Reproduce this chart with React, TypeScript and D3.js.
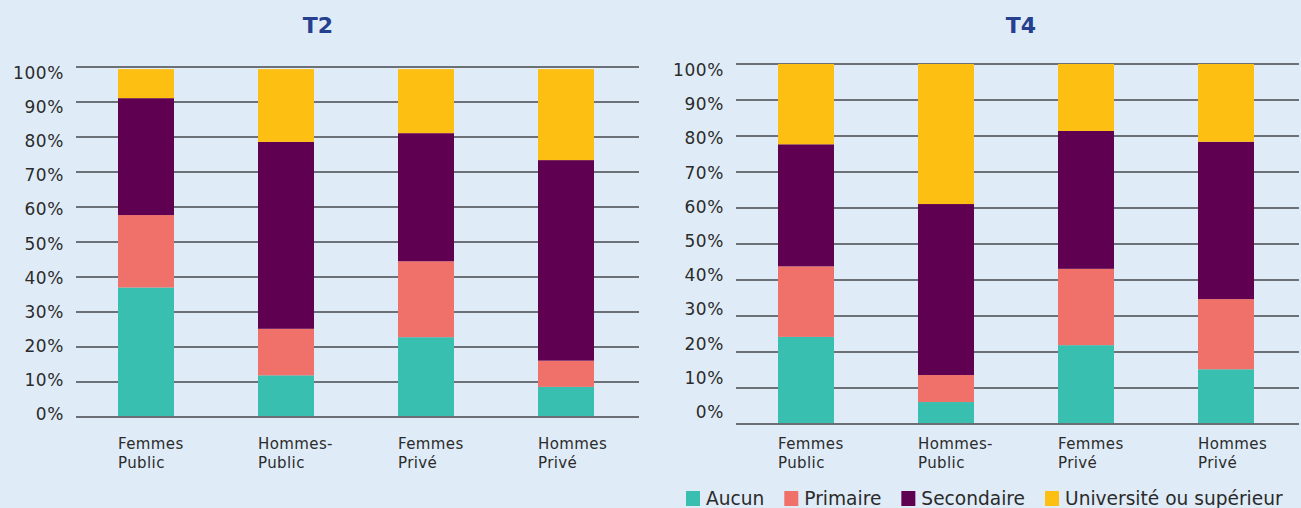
import { useEffect, useRef } from "react";
import * as d3 from "d3";

const categories = ["Femmes Public", "Hommes-Public", "Femmes Privé", "Hommes Privé"];
const categoryLines = [["Femmes", "Public"], ["Hommes-", "Public"], ["Femmes", "Privé"], ["Hommes", "Privé"]];
const levels = ["Aucun", "Primaire", "Secondaire", "Université ou supérieur"];
const levelColors = ["#38bfb0", "#f0706a", "#600050", "#fdbf12"];
const yTicks = [0, 10, 20, 30, 40, 50, 60, 70, 80, 90, 100];

// T2 (%)
const aucunT2 = [37.0, 11.9, 22.8, 8.6];
const primaireT2 = [20.7, 13.3, 21.7, 7.5];
const secondaireT2 = [33.4, 53.4, 36.6, 57.3];
const universiteT2 = [8.3, 20.8, 18.3, 26.0];

// T4
const aucunT4 = [24.2, 6.1, 21.9, 15.2];
const primaireT4 = [19.6, 7.5, 21.2, 19.5];
const secondaireT4 = [33.9, 47.5, 38.3, 43.7];
const universiteT4 = [22.3, 38.9, 18.6, 21.6];

const FONT = "'DejaVu Sans', sans-serif";

interface Panel {
  title: string;
  titleX: number;
  series: number[][];
  x0: number;
  x1: number;
  yTop: number;
  yBottom: number;
  labelTop: number;
  labelBottom: number;
}

const panels: Panel[] = [
  { title: "T2", titleX: 318, series: [aucunT2, primaireT2, secondaireT2, universiteT2], x0: 76, x1: 636, yTop: 67, yBottom: 417, labelTop: 79, labelBottom: 420 },
  { title: "T4", titleX: 1021, series: [aucunT4, primaireT4, secondaireT4, universiteT4], x0: 736, x1: 1296, yTop: 64, yBottom: 424, labelTop: 76, labelBottom: 418 },
];

const categoryLabelY = 449;

export default function App() {
  const svgRef = useRef<SVGSVGElement>(null);
  const width = 1301;
  const height = 508;

  useEffect(() => {
    if (!svgRef.current) return;
    const svg = d3.select(svgRef.current);
    svg.selectAll("*").remove();

    svg.append("rect").attr("width", width).attr("height", height).attr("fill", "#dfecf7");

    panels.forEach(p => {
      const g = svg.append("g");
      const x = d3.scaleBand<string>().domain(categories).range([p.x0, p.x1]).paddingInner(0.6).paddingOuter(0.3);
      const y = d3.scaleLinear().domain([0, 100]).range([p.yBottom, p.yTop]);
      // Excel spreads the tick labels a bit tighter than the gridlines
      const yLabel = d3.scaleLinear().domain([0, 100]).range([p.labelBottom, p.labelTop]);

      // Title
      g.append("text")
        .attr("x", p.titleX)
        .attr("y", 33)
        .attr("text-anchor", "middle")
        .attr("font-family", FONT)
        .attr("font-weight", "bold")
        .attr("font-size", "22px")
        .attr("fill", "#25408f")
        .text(p.title);

      // Gridlines
      g.selectAll(".grid")
        .data(yTicks)
        .join("line")
        .attr("x1", p.x0)
        .attr("x2", p.x1 + 3)
        .attr("y1", d => y(d))
        .attr("y2", d => y(d))
        .attr("stroke", d => (d === 0 ? "#6b6f75" : "#45484d"))
        .attr("stroke-width", d => (d === 0 ? 2 : 1.5));

      // Y labels
      g.selectAll(".ylab")
        .data(yTicks)
        .join("text")
        .attr("x", p.x0 - 12)
        .attr("y", d => yLabel(d))
        .attr("text-anchor", "end")
        .attr("font-family", FONT)
        .attr("font-size", "17px")
        .attr("letter-spacing", "0.6px")
        .attr("fill", "#2b2b2b")
        .text(d => `${d}%`);

      // Stacked bars
      const rows = categories.map((c, i) => {
        const row: Record<string, number | string> = { cat: c };
        levels.forEach((l, j) => (row[l] = p.series[j][i]));
        return row;
      });
      const stacked = d3.stack<Record<string, number | string>>().keys(levels)(rows);

      stacked.forEach((layer, j) => {
        g.append("g")
          .selectAll("rect")
          .data(layer)
          .join("rect")
          .attr("x", d => x(d.data.cat as string)!)
          .attr("width", x.bandwidth())
          .attr("y", d => y(d[1]))
          .attr("height", d => y(d[0]) - y(d[1]) - (j === 0 ? 1 : 0))
          .attr("fill", levelColors[j]);
      });

      // Category labels
      categories.forEach((c, i) => {
        const t = g.append("text")
          .attr("font-family", FONT)
          .attr("font-size", "15px")
          .attr("letter-spacing", "0.4px")
          .attr("fill", "#2b2b2b");
        categoryLines[i].forEach((line, k) => {
          t.append("tspan")
            .attr("x", x(c)! + x.bandwidth() / 2 - 28)
            .attr("y", categoryLabelY + k * 19)
            .text(line);
        });
      });
    });

    // Legend
    const legend = svg.append("g").attr("transform", "translate(686,491)");
    let cx = 0;
    levels.forEach((l, j) => {
      legend.append("rect").attr("x", cx).attr("y", 0).attr("width", 14).attr("height", 15).attr("fill", levelColors[j]);
      const t = legend.append("text")
        .attr("x", cx + 20)
        .attr("y", 14)
        .attr("font-family", FONT)
        .attr("font-size", "18.6px")
        .attr("fill", "#2b2b2b")
        .text(l);
      const w = (t.node() as SVGTextElement).getComputedTextLength();
      cx += 20 + w + 20;
    });
  }, []);

  return (
    <svg
      ref={svgRef}
      width={width}
      height={height}
      viewBox={`0 0 ${width} ${height}`}
      style={{ position: "absolute", left: 0, top: 0 }}
    />
  );
}
